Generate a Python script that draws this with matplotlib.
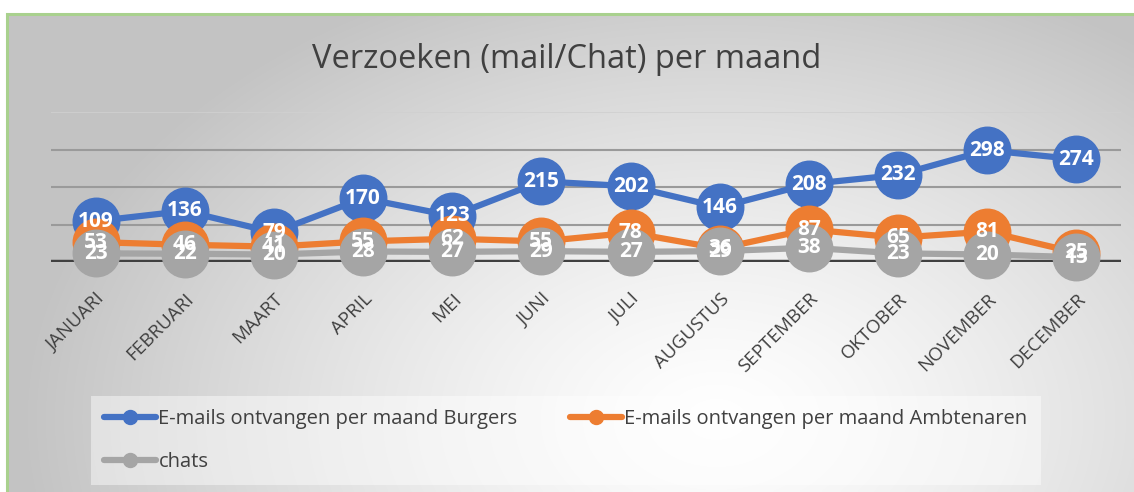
import numpy as np
import matplotlib
matplotlib.use("Agg")
import matplotlib.pyplot as plt
from matplotlib.patches import Rectangle

plt.rcParams['font.family'] = ['Open Sans', 'DejaVu Sans']

months = ["JANUARI", "FEBRUARI", "MAART", "APRIL", "MEI", "JUNI", "JULI",
          "AUGUSTUS", "SEPTEMBER", "OKTOBER", "NOVEMBER", "DECEMBER"]
burgers = [109, 136, 79, 170, 123, 215, 202, 146, 208, 232, 298, 274]
ambtenaren = [53, 46, 41, 55, 62, 55, 78, 36, 87, 65, 81, 25]
chats = [23, 22, 20, 28, 27, 29, 27, 29, 38, 23, 20, 13]

series_names = ["E-mails ontvangen per maand Burgers",
                "E-mails ontvangen per maand Ambtenaren",
                "chats"]
colors = ["#4472C4", "#ED7D31", "#A5A5A5"]

W, H = 1134, 492
fig = plt.figure(figsize=(W / 100, H / 100), dpi=100)
fig.patch.set_facecolor("white")

# background gradient
bg = fig.add_axes([7 / W, 0, 1 - 7 / W, 1 - 14 / H], zorder=-10)
yy, xx = np.mgrid[0:200, 0:400]
xn = xx / 399.0
yn = yy / 199.0
d = np.sqrt(((xn - 0.63) / 0.62) ** 2 + ((yn - 0.85) / 1.0) ** 2)
d = np.clip(d, 0, 1)
val = 1.0 - 0.235 * d ** 1.3
img = np.dstack([val, val, val])
bg.imshow(img, aspect="auto", extent=[0, 1, 0, 1], origin="upper", interpolation="bilinear")
bg.set_axis_off()

# green border
fig.patches.append(Rectangle((6.5 / W, -0.1), 1.2, 1 - 14 / H + 0.1, transform=fig.transFigure,
                             fill=False, edgecolor="#A9D18E", linewidth=2.2, zorder=5))

ax = fig.add_axes([51 / W, (H - 262) / H, 1070 / W, 150 / H])
ax.set_facecolor("none")
x = np.arange(len(months))
ax.set_xlim(-0.5, len(months) - 0.5)
ax.set_ylim(0, 400)

for yv in [100, 200, 300]:
    ax.axhline(yv, color="#9A9A9A", linewidth=1.5, zorder=1)
ax.axhline(400, color="#D0D0D0", linewidth=1.2, zorder=1)
ax.axhline(0, color="#404040", linewidth=3.2, zorder=2)

handles = []
for i, (vals, c, name) in enumerate(zip([burgers, ambtenaren, chats], colors, series_names)):
    h, = ax.plot(x, vals, color=c, linewidth=4.5, marker="o", markersize=33.5,
                 markerfacecolor=c, markeredgecolor=c, zorder=3 + i, label=name,
                 solid_capstyle="round", clip_on=False)
    handles.append(h)

for vals in [burgers, ambtenaren, chats]:
    for xi, v in zip(x, vals):
        ax.text(xi, v, str(v), color="white", fontsize=15, fontweight="bold",
                ha="center", va="center", zorder=10, clip_on=False)

for s in ax.spines.values():
    s.set_visible(False)
ax.set_yticks([])
ax.set_xticks(x)
ax.set_xticklabels(months, rotation=45, ha="right", rotation_mode="anchor",
                   fontsize=13.5, color="#404040")
ax.tick_params(axis="x", length=0, pad=20)

fig.text(0.5, 1 - 60 / H, "Verzoeken (mail/Chat) per maand", ha="center", va="center",
         fontsize=23.5, color="#404040")

leg = fig.legend([handles[0], handles[2], handles[1]],
                 [series_names[0], series_names[2], series_names[1]],
                 ncol=2, loc="upper left", bbox_to_anchor=(91 / W, 1 - 396 / H),
                 fontsize=14.5, frameon=True, fancybox=False, markerscale=0.3,
                 handlelength=2.6, handletextpad=0.1, columnspacing=2.6,
                 labelspacing=1.15, borderpad=0.65, borderaxespad=0,
                 labelcolor="#404040")
leg.get_frame().set_facecolor("white")
leg.get_frame().set_alpha(0.45)
leg.get_frame().set_edgecolor("none")
for lh in leg.legend_handles:
    lh.set_linewidth(4.5)

fig.savefig("out.png", dpi=100, facecolor=fig.get_facecolor())
